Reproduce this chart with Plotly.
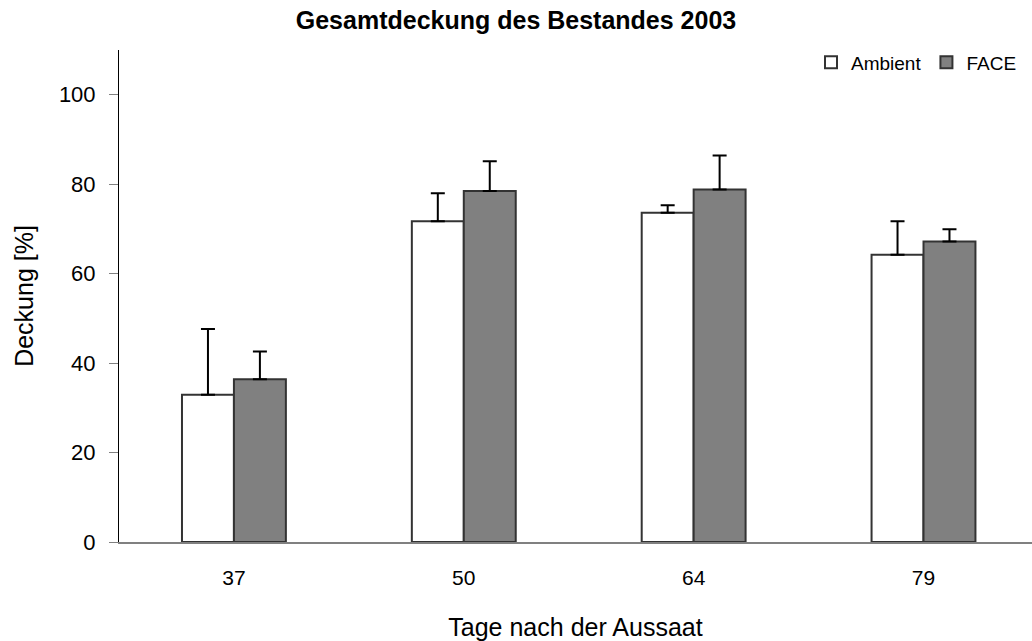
import plotly.graph_objects as go

categories = ["37", "50", "64", "79"]
ambient = [32.9, 71.7, 73.6, 64.2]
ambient_err = [14.7, 6.3, 1.7, 7.5]
face = [36.4, 78.5, 78.8, 67.2]
face_err = [6.2, 6.6, 7.6, 2.7]
y_ticks = [0, 20, 40, 60, 80, 100]

FONT = "Liberation Sans, Arial, sans-serif"

fig = go.Figure()
fig.add_trace(go.Bar(
    name="Ambient", x=categories, y=ambient,
    marker=dict(color="white", line=dict(color="#333333", width=2)),
    error_y=dict(type="data", array=ambient_err, arrayminus=[0]*4, symmetric=False,
                 color="black", thickness=2, width=7),
))
fig.add_trace(go.Bar(
    name="FACE", x=categories, y=face,
    marker=dict(color="#808080", line=dict(color="#333333", width=2)),
    error_y=dict(type="data", array=face_err, arrayminus=[0]*4, symmetric=False,
                 color="black", thickness=2, width=7),
))

L, T, B = 118.5, 49.5, 99.3
PW, PH = 1032 - L, 641 - T - B

fig.update_layout(
    width=1032, height=641,
    margin=dict(l=L, r=0, t=T, b=B, autoexpand=False),
    paper_bgcolor="white", plot_bgcolor="white",
    font=dict(family=FONT, color="black", size=22),
    barmode="group", bargap=0.548, bargroupgap=0,
    title=dict(text="<b>Gesamtdeckung des Bestandes 2003</b>", x=0.5, xref="container",
               xanchor="center", y=1 - 20 / 641, yref="container", yanchor="middle",
               font=dict(size=25, family=FONT, color="black")),
    legend=dict(orientation="h", xref="paper", yref="paper",
                x=(1022 - L) / PW, xanchor="right", y=1 - (62 - T) / PH, yanchor="middle",
                font=dict(size=19, family=FONT), bgcolor="rgba(0,0,0,0)",
                itemwidth=30, tracegroupgap=0),
    showlegend=True,
)
fig.update_xaxes(
    type="category", range=[-0.5, 3.472], automargin=False,
    showline=True, linecolor="#808080", linewidth=2,
    ticks="", showgrid=False, zeroline=False,
    tickfont=dict(size=21), ticklabelstandoff=16,
    title=dict(text="Tage nach der Aussaat", font=dict(size=25), standoff=31),
)
fig.update_yaxes(
    range=[0, 110], tickvals=y_ticks, automargin=False,
    showline=True, linecolor="black", linewidth=1,
    ticks="outside", ticklen=9, tickcolor="#808080", tickwidth=1,
    showgrid=False, zeroline=False,
    tickfont=dict(size=22), ticklabelstandoff=9,
    title=dict(text="Deckung [%]", font=dict(size=25), standoff=18),
)

fig.write_html("out.html", config={"displayModeBar": False},
               post_script="document.body.style.margin='0';")
